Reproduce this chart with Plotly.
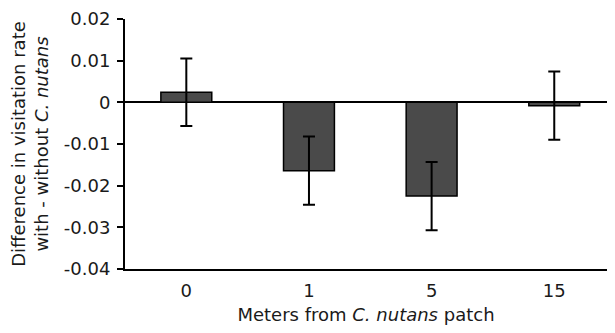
import plotly.graph_objects as go

categories = ["0", "1", "5", "15"]
values = [0.0024, -0.0164, -0.0225, -0.0008]
errors = [0.0081, 0.0082, 0.0082, 0.0082]
y_ticks = [0.02, 0.01, 0, -0.01, -0.02, -0.03, -0.04]
y_tick_labels = ["0.02", "0.01", "0", "-0.01", "-0.02", "-0.03", "-0.04"]

font_family = "DejaVu Sans, Liberation Sans, Arial, sans-serif"

fig = go.Figure(
    go.Bar(
        x=categories,
        y=values,
        width=0.415,
        marker=dict(color="#4a4a4a", line=dict(color="black", width=1.5)),
        error_y=dict(type="data", array=errors, visible=True,
                     color="black", thickness=2, width=6),
    )
)

fig.update_layout(
    width=599, height=317,
    margin=dict(l=117, r=0, t=8, b=55),
    paper_bgcolor="white", plot_bgcolor="white",
    font=dict(family=font_family, size=18, color="#1a1a1a"),
    showlegend=False,
    xaxis=dict(
        type="category", range=[-0.5, 3.43],
        showline=True, linecolor="black", linewidth=2,
        ticks="", showgrid=False, ticklabelstandoff=4,
        title=dict(text="Meters from <i>C. nutans</i> patch", standoff=12,
                   font=dict(size=18)),
    ),
    yaxis=dict(
        range=[-0.04, 0.02],
        tickvals=y_ticks, ticktext=y_tick_labels,
        showline=True, linecolor="black", linewidth=2,
        ticks="outside", ticklen=6, tickwidth=2, tickcolor="black",
        ticklabelstandoff=3, ticklabeloverflow="allow",
        showgrid=False,
        zeroline=True, zerolinecolor="black", zerolinewidth=2,
        title=dict(text="Difference in visitation rate<br>with - without <i>C. nutans</i>",
                   standoff=12, font=dict(size=18)),
    ),
)

fig.write_html("out.html")
